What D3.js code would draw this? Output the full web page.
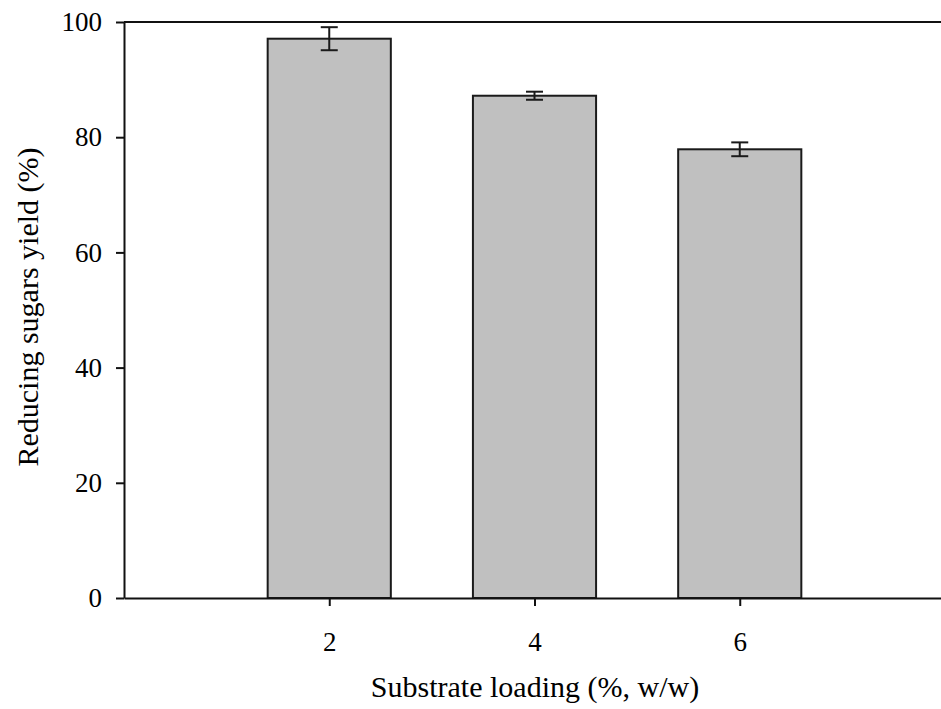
<!DOCTYPE html>
<html>
<head>
<meta charset="utf-8">
<script src="https://cdn.jsdelivr.net/npm/d3@7/dist/d3.min.js"></script>
<style>
  body { margin: 0; background: #fff; }
  svg text { font-family: "Liberation Serif", "Times New Roman", serif; fill: #000; }
</style>
</head>
<body>
<div id="chart"></div>
<script>
// data
var loadings = [2, 4, 6];
var yields = [97.1, 87.2, 77.9];
var errors = [2.0, 0.7, 1.2];
var xTicks = [2, 4, 6];
var yTicks = [0, 20, 40, 60, 80, 100];

var width = 941, height = 709;
var plotLeft = 124, plotRight = 945, plotTop = 22, plotBottom = 598;
var barWidth = 1.2; // in x units

var x = d3.scaleLinear().domain([0, 8]).range([plotLeft, plotRight]);
var y = d3.scaleLinear().domain([0, 100]).range([plotBottom, plotTop]);

var svg = d3.select("#chart")
  .append("svg")
  .attr("width", width)
  .attr("height", height);

// bars
svg.selectAll("rect.bar")
  .data(loadings).enter()
  .append("rect")
  .attr("class", "bar")
  .attr("x", function(d) { return x(d - barWidth / 2); })
  .attr("width", function(d) { return x(d + barWidth / 2) - x(d - barWidth / 2); })
  .attr("y", function(d, i) { return y(yields[i]); })
  .attr("height", function(d, i) { return y(0) - y(yields[i]); })
  .attr("fill", "#c0c0c0")
  .attr("stroke", "#1a1a1a")
  .attr("stroke-width", 2);

// error bars
var eb = svg.selectAll("g.err")
  .data(loadings).enter()
  .append("g")
  .attr("class", "err")
  .attr("stroke", "#1a1a1a")
  .attr("stroke-width", 2);

eb.append("line")
  .attr("x1", function(d) { return x(d); })
  .attr("x2", function(d) { return x(d); })
  .attr("y1", function(d, i) { return y(yields[i] + errors[i]); })
  .attr("y2", function(d, i) { return y(yields[i] - errors[i]); });

// caps, top and bottom
[1, -1].forEach(function(s) {
  eb.append("line")
    .attr("x1", function(d) { return x(d) - 8.5; })
    .attr("x2", function(d) { return x(d) + 8.5; })
    .attr("y1", function(d, i) { return y(yields[i] + s * errors[i]); })
    .attr("y2", function(d, i) { return y(yields[i] + s * errors[i]); });
});

// y axis
var yAxis = svg.append("g")
  .attr("transform", "translate(" + plotLeft + ",0)")
  .call(d3.axisLeft(y).tickValues(yTicks).tickSize(8).tickPadding(14).tickSizeOuter(0));

// x axis
var xAxis = svg.append("g")
  .attr("transform", "translate(0," + plotBottom + ")")
  .call(d3.axisBottom(x).tickValues(xTicks).tickSize(8).tickPadding(26).tickSizeOuter(0));

[yAxis, xAxis].forEach(function(a) {
  a.attr("font-size", 27).attr("font-family", null);
  a.selectAll("path, line").attr("stroke", "#111").attr("stroke-width", 2);
});

// top frame line
svg.append("line")
  .attr("x1", x(0)).attr("x2", x(8))
  .attr("y1", y(100)).attr("y2", y(100))
  .attr("stroke", "#111")
  .attr("stroke-width", 2);

// axis titles
svg.append("text")
  .attr("x", 535)
  .attr("y", 697)
  .attr("text-anchor", "middle")
  .attr("font-size", 30)
  .text("Substrate loading (%, w/w)");

svg.append("text")
  .attr("transform", "translate(38,307) rotate(-90)")
  .attr("text-anchor", "middle")
  .attr("font-size", 30)
  .text("Reducing sugars yield (%)");
</script>
</body>
</html>
